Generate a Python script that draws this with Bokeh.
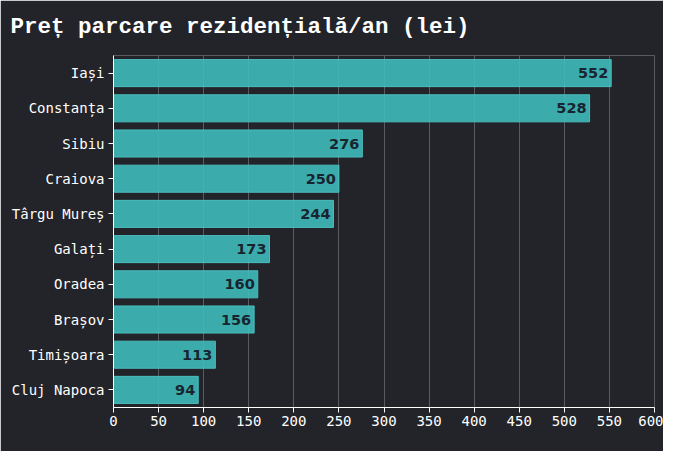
from bokeh.plotting import figure
from bokeh.models import ColumnDataSource, FactorRange, Range1d, SingleIntervalTicker
from bokeh.embed import file_html
from bokeh.resources import INLINE
from bokeh.core.properties import value

cities = ["Iași", "Constanța", "Sibiu", "Craiova", "Târgu Mureș", "Galați",
          "Oradea", "Brașov", "Timișoara", "Cluj Napoca"]
prices = [552, 528, 276, 250, 244, 173, 160, 156, 113, 94]
labels = [str(v) for v in prices]

BG = "#232429"
BAR = "#3fbaba"

src = ColumnDataSource(dict(city=cities, price=prices, label=labels))

p = figure(width=663, height=451, output_backend="svg", toolbar_location=None,
           y_range=FactorRange(factors=list(reversed(cities)), range_padding=0),
           x_range=Range1d(0, 600),
           title="Preț parcare rezidențială/an (lei)")

p.background_fill_color = BG
p.border_fill_color = BG
p.outline_line_color = None
p.min_border_left = 113
p.min_border_right = 9
p.min_border_bottom = 44
p.min_border_top = 0

p.title.text_font = "Liberation Mono"
p.title.text_font_style = "bold"
p.title.text_font_size = "22.5px"
p.title.text_color = "#ffffff"
p.title.align = "left"
p.title.offset = -103
p.title.standoff = 27
p.title.vertical_align = "top"

p.hbar(y="city", right="price", left=0, height=0.77, source=src,
       fill_color=BAR, fill_alpha=0.9, line_color="#4cc3c3", line_alpha=0.9, line_width=1)

p.text(x="price", y="city", text="label", source=src,
       text_align="right", text_baseline="middle", x_offset=-3,
       text_font=value("DejaVu Sans"), text_font_style="bold",
       text_font_size="14.5px", text_color="#182530")

p.xaxis.ticker = SingleIntervalTicker(interval=50)
for ax in (p.xaxis, p.yaxis):
    ax.axis_line_color = "#ffffff"
    ax.major_tick_line_color = "#ffffff"
    ax.minor_tick_line_color = None
    ax.major_label_text_color = "#ffffff"
    ax.major_label_text_font = "DejaVu Sans Mono"
    ax.major_tick_out = 5
    ax.major_tick_in = 0
p.xaxis.major_label_text_font_size = "14px"
p.xaxis.major_label_standoff = 3
p.yaxis.major_label_text_font_size = "14px"
p.yaxis.major_label_standoff = 4

p.ygrid.grid_line_color = None
p.xgrid.grid_line_color = "#5a5b61"
p.xgrid.grid_line_width = 1

open("out.html", "w").write(file_html(p, INLINE))
